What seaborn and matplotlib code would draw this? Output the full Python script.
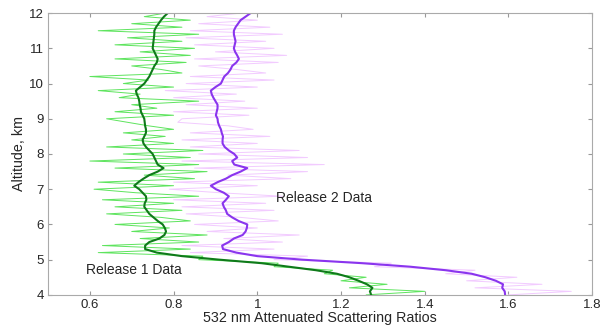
import numpy as np
import pandas as pd
import seaborn as sns
from matplotlib import pyplot as plt

# altitude grid, km
altitude = np.round(np.arange(4.0, 12.001, 0.1), 1)

release1_raw = [1.26, 1.40, 1.22, 1.31, 1.20, 1.26, 1.16, 1.18, 1.04, 1.05,
                0.86, 0.87, 0.62, 0.84, 0.63, 0.86, 0.72, 0.88, 0.70, 0.79,
                0.66, 0.84, 0.77, 0.64, 0.82, 0.66, 0.80, 0.63, 0.86, 0.71,
                0.61, 0.80, 0.62, 0.85, 0.73, 0.88, 0.66, 0.86, 0.60, 0.84,
                0.68, 0.87, 0.64, 0.80, 0.70, 0.78, 0.68, 0.80, 0.74, 0.69,
                0.64, 0.80, 0.66, 0.76, 0.70, 0.86, 0.67, 0.72, 0.62, 0.80,
                0.68, 0.74, 0.60, 0.82, 0.77, 0.70, 0.83, 0.66, 0.84, 0.72,
                0.85, 0.66, 0.82, 0.69, 0.86, 0.62, 0.82, 0.70, 0.84, 0.73,
                0.78]

release1_smooth = [1.272, 1.269, 1.275, 1.262, 1.242, 1.220, 1.190, 1.140, 1.075, 1.010,
                   0.909, 0.820, 0.760, 0.732, 0.732, 0.742, 0.766, 0.778, 0.782, 0.779,
                   0.774, 0.762, 0.752, 0.742, 0.736, 0.730, 0.731, 0.735, 0.734, 0.726,
                   0.718, 0.706, 0.716, 0.728, 0.742, 0.762, 0.776, 0.762, 0.758, 0.754,
                   0.750, 0.742, 0.734, 0.728, 0.726, 0.730, 0.734, 0.734, 0.732, 0.731,
                   0.730, 0.726, 0.722, 0.721, 0.719, 0.718, 0.716, 0.712, 0.710, 0.720,
                   0.730, 0.736, 0.742, 0.746, 0.750, 0.754, 0.760, 0.762, 0.758, 0.754,
                   0.750, 0.751, 0.752, 0.753, 0.754, 0.754, 0.758, 0.764, 0.770, 0.777,
                   0.786]

release2_raw = [1.60, 1.75, 1.52, 1.68, 1.50, 1.62, 1.45, 1.52, 1.28, 1.32,
                1.04, 1.12, 0.84, 1.04, 0.82, 1.06, 0.92, 1.10, 0.88, 1.00,
                0.85, 1.05, 0.96, 0.83, 1.04, 0.82, 1.02, 0.80, 1.06, 0.91,
                0.79, 1.00, 0.80, 1.08, 0.93, 1.12, 0.85, 1.16, 0.82, 1.12,
                0.86, 1.10, 0.84, 1.00, 0.82, 1.03, 0.84, 0.99, 0.93, 0.81,
                0.82, 0.98, 0.80, 1.00, 0.83, 0.97, 0.80, 0.95, 0.78, 1.00,
                0.83, 1.04, 0.84, 1.02, 0.95, 0.86, 1.05, 0.85, 1.07, 0.90,
                1.04, 0.85, 1.02, 0.83, 1.06, 0.84, 1.03, 0.86, 1.00, 0.88,
                0.96]

release2_smooth = [1.592, 1.591, 1.585, 1.587, 1.570, 1.545, 1.512, 1.450, 1.365, 1.250,
                   1.107, 1.000, 0.950, 0.918, 0.916, 0.932, 0.944, 0.965, 0.972, 0.975,
                   0.976, 0.955, 0.940, 0.928, 0.925, 0.920, 0.917, 0.925, 0.932, 0.920,
                   0.901, 0.889, 0.905, 0.925, 0.940, 0.960, 0.976, 0.945, 0.940, 0.952,
                   0.945, 0.932, 0.922, 0.917, 0.917, 0.918, 0.915, 0.913, 0.909, 0.906,
                   0.905, 0.901, 0.903, 0.905, 0.905, 0.900, 0.895, 0.891, 0.889, 0.900,
                   0.913, 0.917, 0.921, 0.930, 0.936, 0.940, 0.950, 0.956, 0.952, 0.947,
                   0.944, 0.946, 0.948, 0.946, 0.944, 0.944, 0.948, 0.954, 0.960, 0.972,
                   0.984]

sns.set_style("ticks")
plt.rcParams['font.family'] = ['Liberation Sans', 'DejaVu Sans']

fig, ax = plt.subplots(figsize=(6, 3.28), dpi=100)
fig.subplots_adjust(left=0.08, right=0.987, top=0.96, bottom=0.101)

# faint raw profiles first, then the smoothed ones on top
sns.lineplot(x=release2_raw, y=altitude, orient='y', sort=False, estimator=None,
             color='#f2cbff', linewidth=0.7, ax=ax)
sns.lineplot(x=release1_raw, y=altitude, orient='y', sort=False, estimator=None,
             color='#5ee45e', linewidth=0.7, ax=ax)
sns.lineplot(x=release1_smooth, y=altitude, orient='y', sort=False, estimator=None,
             color='#0f7a1a', linewidth=1.5, ax=ax)
sns.lineplot(x=release2_smooth, y=altitude, orient='y', sort=False, estimator=None,
             color='#8a35ee', linewidth=1.5, ax=ax)

ax.set_xlim(0.5, 1.8)
ax.set_ylim(4, 12)
ax.set_xticks([0.6, 0.8, 1, 1.2, 1.4, 1.6, 1.8])
ax.set_xticklabels(['0.6', '0.8', '1', '1.2', '1.4', '1.6', '1.8'])
ax.set_yticks(range(4, 13))
ax.tick_params(direction='in', top=True, right=True, length=3, labelsize=9.5,
               color='#999999', pad=3)
for s in ax.spines.values():
    s.set_color('#aaaaaa')

ax.set_xlabel('532 nm Attenuated Scattering Ratios', fontsize=10.3, labelpad=0)
ax.set_ylabel('Altitude, km', fontsize=10.3, labelpad=2)

ax.text(0.59, 4.72, 'Release 1 Data', fontsize=10, va='center')
ax.text(1.045, 6.76, 'Release 2 Data', fontsize=10, va='center')

fig.savefig('out.png', dpi=100)
